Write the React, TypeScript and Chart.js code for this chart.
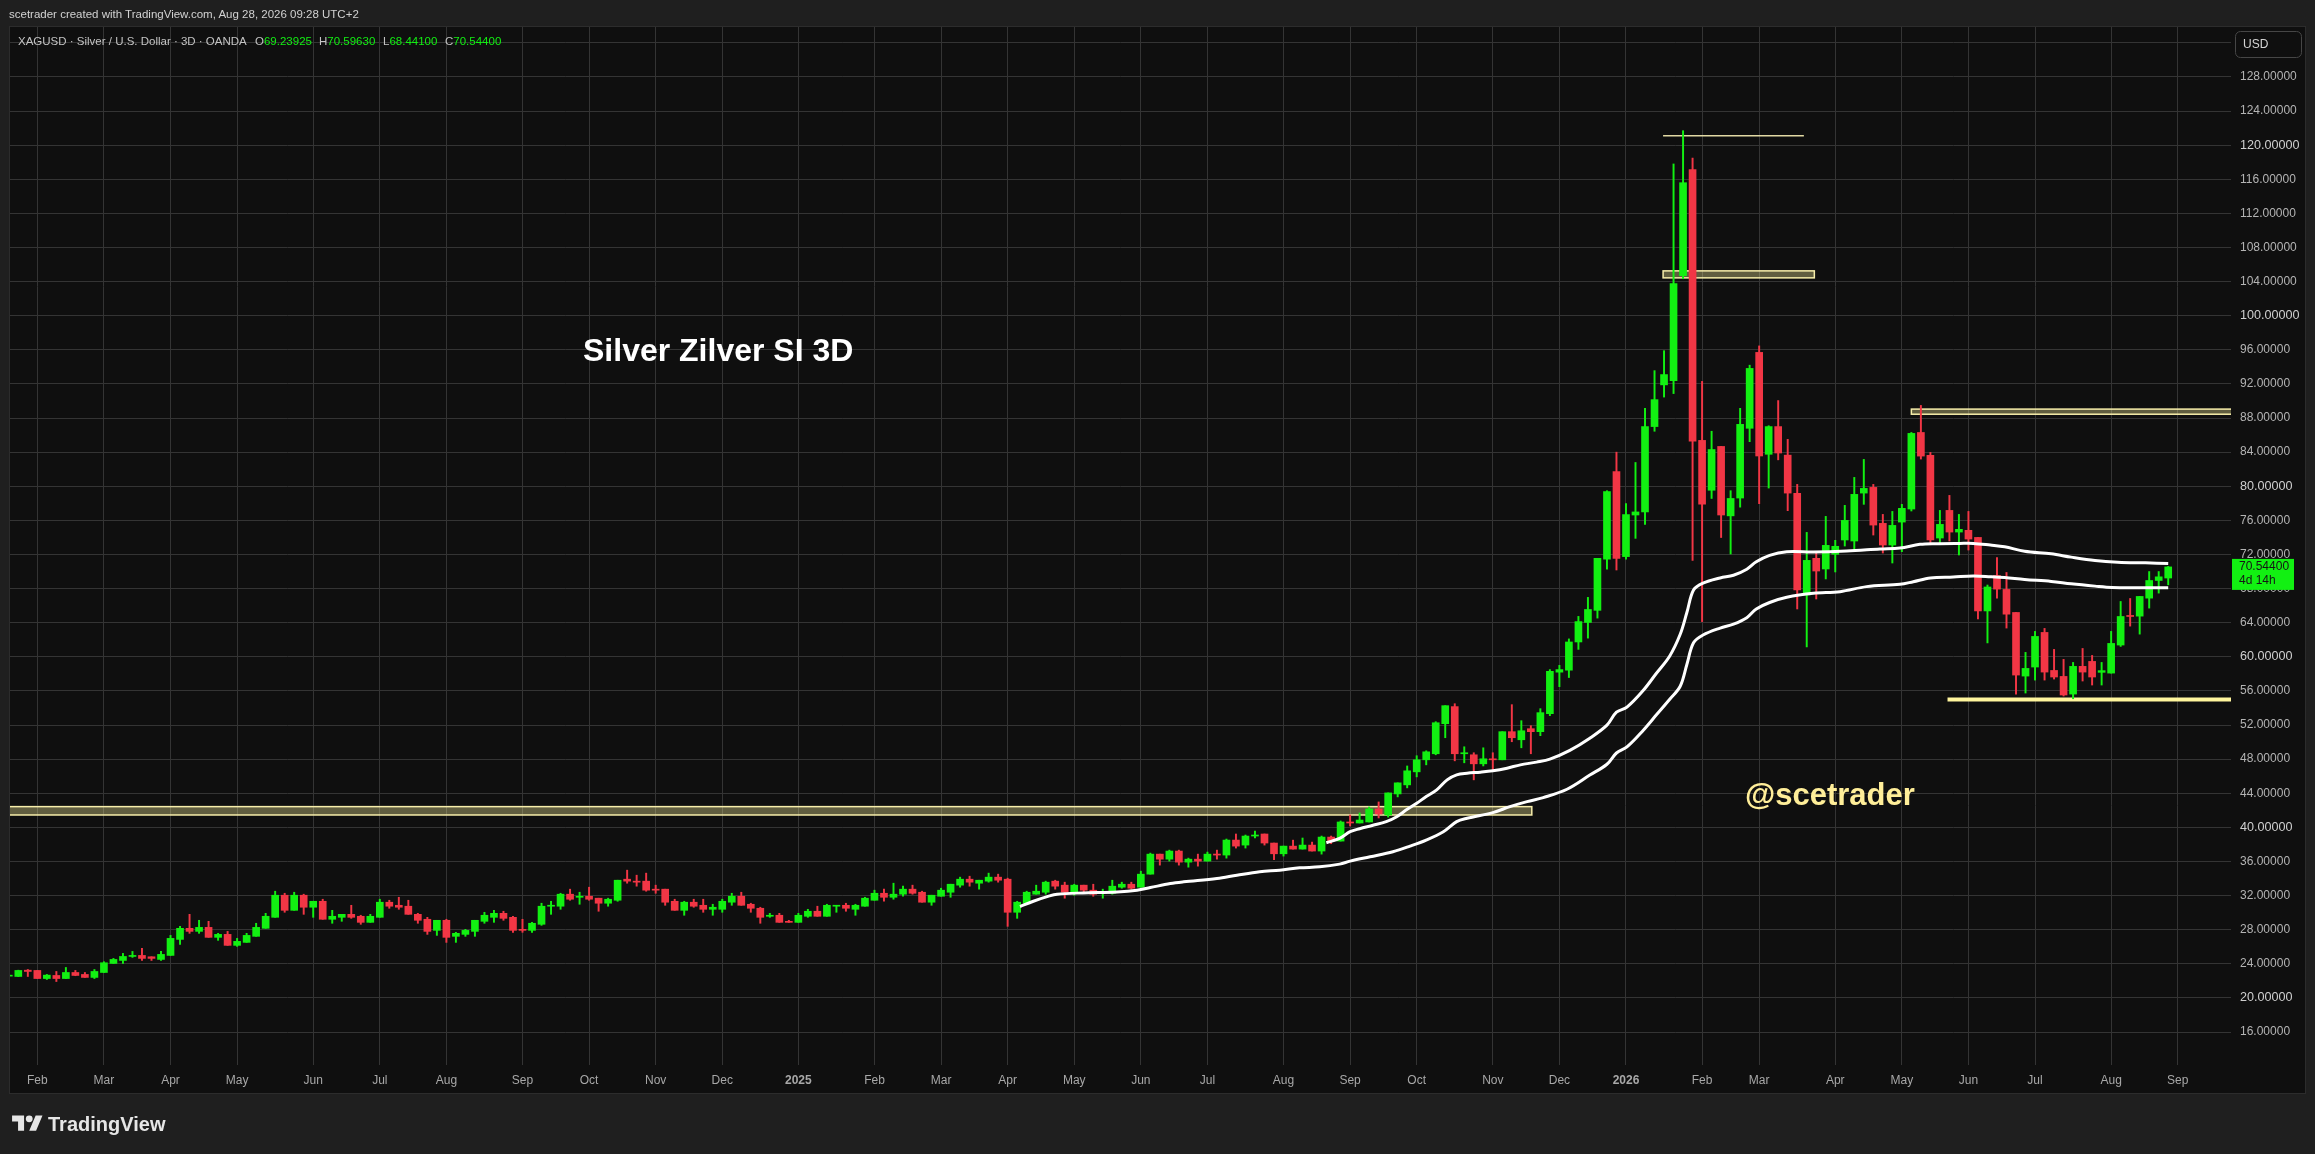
import { useEffect, useRef } from "react";
import { Chart, registerables } from "chart.js";

Chart.register(...registerables);

const W = 2315;
const H = 1154;

// ---- Candle data (3D candles, XAGUSD) ----
const opens = [
  22.55, 22.51, 23.25, 23.22, 22.27, 22.63, 22.27, 22.98, 22.75, 22.4,
  22.98, 24.04, 24.39, 24.86, 24.98, 24.82, 24.51, 24.98, 26.86, 28.16,
  27.8, 28.27, 27.1, 27.45, 26.16, 26.51, 27.22, 28.16, 29.45, 32.04,
  30.27, 32.04, 30.63, 31.33, 29.22, 29.45, 29.8, 29.57, 28.86, 29.45,
  31.22, 30.86, 30.75, 29.8, 29.22, 27.92, 29.1, 27.22, 27.45, 27.8,
  28.98, 29.45, 29.92, 29.45, 28.04, 27.92, 28.63, 30.75, 30.75, 32.16,
  31.8, 31.92, 31.69, 31.1, 31.45, 33.92, 33.69, 33.69, 32.75, 32.75,
  31.33, 30.27, 31.22, 30.86, 30.39, 30.39, 31.22, 31.92, 30.98, 30.51,
  29.57, 29.69, 28.98, 28.86, 29.57, 30.16, 29.57, 30.75, 30.86, 30.39,
  30.75, 31.45, 32.27, 31.8, 32.16, 32.75, 32.39, 31.22, 31.92, 32.39,
  33.22, 33.92, 33.45, 33.69, 34.16, 33.92, 30.04, 31.1, 32.16, 32.39,
  33.69, 33.22, 32.39, 33.22, 32.63, 32.27, 32.27, 32.98, 33.33, 32.98,
  34.51, 36.86, 36.27, 37.22, 35.92, 36.27, 36.04, 36.86, 36.75, 38.51,
  37.92, 38.98, 39.22, 38.16, 36.9, 37.8, 37.45, 37.92, 37.22, 38.86,
  38.39, 40.63, 40.51, 40.63, 42.16, 41.45, 43.92, 44.98, 46.51, 47.92,
  48.63, 52.16, 54.16, 48.63, 48.51, 47.45, 48.04, 47.92, 51.22, 50.27,
  51.57, 51.22, 53.33, 58.2, 58.43, 61.74, 64.03, 65.45, 71.45, 81.72,
  71.75, 76.63, 76.99, 87.0, 91.89, 92.39, 104.7, 117.15, 85.38, 79.53,
  84.67, 76.53, 78.62, 86.8, 95.7, 83.75, 87.0, 83.65, 79.16, 67.25,
  71.55, 70.3, 72.02, 73.7, 73.58, 79.2, 79.87, 75.65, 73.11, 75.8,
  77.33, 86.31, 83.62, 73.93, 77.17, 74.63, 74.83, 74.0, 65.38, 69.54,
  67.9, 65.2, 57.74, 58.8, 62.86, 58.4, 57.7, 55.63, 58.88, 59.46,
  58.18, 58.09, 61.38, 64.85, 64.77, 66.88, 68.95, 69.23925,
];
const highs = [
  22.7, 23.25, 23.33, 23.22, 22.75, 23.1, 23.57, 23.22, 22.98, 23.33,
  24.24, 24.63, 25.22, 25.45, 25.8, 24.82, 25.45, 27.33, 28.39, 29.8,
  29.1, 28.98, 27.57, 27.8, 26.98, 27.57, 28.75, 29.92, 32.51, 32.27,
  32.39, 32.16, 31.33, 31.57, 30.27, 29.8, 30.86, 29.69, 29.8, 31.57,
  31.45, 31.8, 31.45, 29.92, 29.45, 29.1, 29.22, 27.69, 28.04, 29.1,
  30.04, 30.27, 30.16, 29.57, 29.22, 28.86, 31.1, 31.33, 32.27, 32.75,
  32.39, 32.98, 31.69, 31.69, 33.8, 34.98, 34.39, 34.63, 33.22, 32.75,
  31.57, 31.33, 31.57, 31.57, 30.98, 31.57, 32.27, 32.39, 31.1, 30.63,
  29.92, 29.92, 29.1, 29.92, 30.39, 30.75, 30.98, 30.86, 31.1, 30.98,
  31.8, 32.63, 32.75, 33.45, 33.1, 33.22, 32.51, 32.04, 32.86, 33.33,
  34.16, 34.27, 33.8, 34.63, 34.51, 34.04, 31.33, 32.51, 33.22, 33.69,
  33.8, 33.57, 33.33, 33.22, 33.33, 32.75, 33.8, 33.57, 33.57, 34.86,
  36.98, 36.86, 37.33, 37.33, 36.39, 36.86, 37.1, 37.33, 38.63, 39.22,
  39.1, 39.57, 39.22, 38.16, 37.8, 38.5, 38.75, 38.27, 38.98, 38.98,
  40.75, 41.45, 41.69, 42.39, 42.98, 44.04, 45.22, 47.2, 48.4, 48.98,
  52.39, 54.27, 54.5, 49.45, 48.75, 49.33, 48.75, 51.22, 54.39, 52.51,
  51.92, 53.92, 58.5, 59.0, 62.1, 64.74, 66.97, 71.55, 79.48, 84.0,
  77.96, 82.79, 89.14, 93.56, 95.9, 117.8, 121.7, 118.5, 92.3, 86.45,
  84.67, 79.48, 89.14, 94.2, 96.46, 87.1, 90.05, 85.5, 80.22, 74.59,
  72.25, 76.47, 73.66, 77.76, 81.04, 83.15, 80.22, 76.7, 77.05, 77.88,
  86.31, 89.48, 83.97, 77.17, 78.93, 76.7, 77.05, 74.0, 68.42, 71.65,
  69.89, 65.2, 60.52, 62.98, 63.33, 60.87, 59.7, 59.34, 60.98, 60.16,
  59.34, 62.98, 66.49, 66.84, 67.08, 70.0, 70.0, 70.5963,
];
const lows = [
  22.45, 22.5, 22.51, 22.27, 22.16, 21.92, 22.27, 22.6, 22.4, 22.27,
  22.98, 24.04, 24.04, 24.75, 24.39, 24.39, 24.39, 24.98, 26.27, 27.57,
  27.57, 27.1, 26.75, 26.16, 26.04, 26.51, 27.22, 28.16, 29.45, 30.04,
  30.27, 29.8, 29.45, 29.22, 28.75, 28.98, 29.33, 28.63, 28.86, 29.45,
  30.51, 30.39, 29.8, 28.75, 27.45, 27.33, 26.51, 26.51, 27.22, 27.22,
  28.75, 28.86, 29.1, 27.69, 27.69, 27.69, 28.51, 29.8, 30.39, 31.45,
  30.98, 31.45, 30.16, 30.75, 31.33, 33.45, 33.1, 32.51, 32.27, 30.86,
  30.27, 29.69, 30.63, 30.04, 29.69, 30.04, 30.86, 30.86, 30.04, 28.75,
  29.45, 28.86, 28.86, 28.86, 29.45, 29.57, 29.57, 30.04, 30.16, 29.69,
  30.75, 31.45, 31.33, 31.57, 31.92, 32.16, 31.22, 30.86, 31.92, 31.8,
  32.98, 33.1, 32.75, 33.57, 33.57, 28.39, 29.33, 30.98, 32.16, 32.16,
  32.75, 31.69, 32.04, 32.27, 31.92, 31.69, 32.16, 32.86, 32.75, 32.98,
  34.51, 35.57, 36.04, 35.57, 35.33, 35.45, 36.04, 36.27, 36.39, 37.57,
  37.57, 38.75, 37.92, 36.2, 36.63, 37.45, 37.45, 37.22, 36.86, 38.08,
  38.39, 40.16, 40.51, 40.63, 41.1, 41.2, 43.57, 44.63, 45.92, 47.33,
  48.51, 50.51, 47.8, 47.57, 45.57, 47.2, 46.75, 47.92, 50.04, 49.33,
  48.63, 50.75, 53.1, 56.5, 57.57, 60.87, 62.19, 64.54, 70.28, 70.18,
  71.45, 73.89, 75.52, 86.45, 90.46, 90.87, 104.34, 71.3, 64.13, 78.57,
  73.99, 72.06, 77.55, 85.23, 77.96, 79.79, 83.1, 77.14, 65.61, 61.16,
  66.78, 69.13, 69.95, 72.99, 72.6, 77.88, 74.28, 72.17, 71.0, 72.33,
  77.1, 83.19, 73.23, 73.23, 73.58, 71.94, 72.52, 64.44, 61.63, 66.88,
  63.37, 55.63, 55.75, 57.27, 57.27, 57.39, 55.4, 55.08, 57.16, 56.69,
  56.69, 58.09, 61.22, 63.6, 62.66, 65.71, 67.47, 68.441,
];
const closes = [
  22.6, 23.22, 23.1, 22.27, 22.67, 22.27, 22.98, 22.63, 22.4, 23.1,
  24.12, 24.51, 24.86, 24.98, 24.63, 24.63, 25.1, 26.98, 28.16, 27.8,
  28.27, 27.1, 27.45, 26.16, 26.63, 27.33, 28.27, 29.57, 32.04, 30.27,
  32.04, 30.63, 31.33, 29.22, 29.57, 29.8, 29.45, 28.86, 29.57, 31.22,
  30.75, 30.63, 29.8, 29.1, 27.8, 29.1, 27.1, 27.57, 27.92, 29.1,
  29.69, 29.92, 29.33, 27.92, 27.92, 28.75, 30.75, 30.86, 32.16, 31.57,
  31.92, 31.57, 31.1, 31.57, 33.8, 33.69, 33.57, 32.63, 32.63, 31.22,
  30.27, 31.22, 30.75, 30.39, 30.63, 31.33, 31.92, 30.86, 30.51, 29.45,
  29.69, 28.86, 28.86, 29.69, 30.16, 29.57, 30.86, 30.86, 30.51, 30.86,
  31.69, 32.27, 31.8, 32.16, 32.75, 32.27, 31.22, 32.04, 32.63, 33.33,
  33.92, 33.57, 33.8, 34.16, 33.8, 30.04, 31.22, 32.39, 32.51, 33.57,
  33.1, 32.39, 33.22, 32.63, 32.16, 32.39, 33.1, 33.33, 32.86, 34.51,
  36.86, 36.27, 37.22, 35.92, 36.27, 36.04, 36.86, 36.75, 38.51, 37.8,
  38.98, 39.1, 38.16, 36.9, 37.8, 37.45, 37.92, 37.22, 38.86, 38.39,
  40.63, 40.51, 40.86, 42.16, 41.57, 44.04, 45.22, 46.63, 47.92, 48.86,
  52.27, 54.27, 48.63, 48.75, 47.45, 48.04, 47.92, 51.22, 50.51, 51.33,
  51.22, 53.45, 58.3, 58.5, 61.74, 64.13, 65.55, 71.55, 79.38, 71.55,
  76.68, 76.99, 87.0, 90.16, 93.1, 103.78, 115.6, 85.28, 77.9, 84.31,
  76.63, 78.57, 87.26, 93.82, 83.55, 87.0, 83.9, 79.2, 67.84, 71.31,
  70.06, 73.07, 72.96, 76.0, 79.05, 79.75, 75.45, 73.11, 75.41, 77.41,
  86.2, 83.54, 73.7, 75.53, 74.63, 74.95, 73.81, 65.38, 68.19, 67.94,
  65.0, 57.86, 58.64, 62.39, 58.21, 57.63, 55.52, 58.88, 58.21, 57.63,
  58.38, 61.57, 64.73, 64.73, 67.08, 68.95, 69.38, 70.544,
];

// ---- Moving-average lines (candle index, price) ----
const maUpperIdx = [
  138.5, 139.9, 141.0, 142.0, 143.4, 144.8, 145.9, 147.0, 148.0, 149.0,
  150.1, 151.2, 152.2, 153.3, 154.7, 156.0, 157.5, 158.9, 160.6, 162.0,
  164.1, 166.2, 168.0, 169.0, 170.1, 171.8, 173.2, 174.6, 175.7, 176.4,
  177.1, 178.1, 179.9, 181.3, 182.7, 183.7, 185.1, 186.9, 189.7, 193.2,
  196.7, 198.8, 200.9, 202.6, 205.1, 206.5, 208.3, 209.8, 211.9, 214.7,
  216.8, 219.3, 221.7, 224.6, 227.0,
];
const maUpperVal = [
  38.2, 38.71, 39.49, 39.84, 40.24, 40.67, 41.25, 42.12, 42.82, 43.61,
  44.39, 45.57, 46.16, 46.35, 46.47, 46.63, 46.94, 47.33, 47.65, 48.0,
  49.03, 50.45, 51.98, 53.5, 54.1, 56.04, 58.07, 60.1, 62.64, 65.19,
  67.83, 68.64, 69.25, 69.56, 70.27, 71.14, 71.9, 72.31, 72.29, 72.41,
  72.64, 72.76, 73.19, 73.27, 73.3, 73.3, 73.1, 72.9, 72.39, 72.08,
  71.69, 71.3, 71.1, 71.02, 70.95,
];
const maLowerIdx = [
  106.3, 107.7, 109.4, 110.2, 112.9, 116.5, 118.6, 120.0, 122.1, 123.5,
  127.0, 129.1, 131.5, 133.6, 135.7, 137.8, 139.9, 141.0, 143.1, 145.5,
  147.3, 149.0, 150.8, 152.2, 153.3, 156.0, 157.8, 159.6, 161.3, 163.8,
  166.2, 168.0, 169.0, 170.1, 171.8, 173.2, 174.6, 175.7, 176.4, 177.1,
  178.1, 179.9, 181.3, 182.7, 183.7, 185.1, 186.9, 189.7, 192.5, 195.3,
  198.8, 200.2, 202.0, 204.4, 206.5, 208.3, 209.8, 211.9, 214.7, 216.8,
  219.3, 221.1, 223.5, 227.0,
];
const maLowerVal = [
  30.71, 31.33, 31.96, 32.16, 32.31, 32.43, 32.63, 32.94, 33.41, 33.61,
  34.0, 34.39, 34.8, 34.98, 35.25, 35.37, 35.69, 36.04, 36.55, 37.14,
  37.8, 38.51, 39.49, 40.67, 41.06, 41.73, 42.43, 43.02, 43.49, 44.47,
  46.13, 47.4, 48.72, 49.44, 51.37, 53.2, 55.03, 56.55, 59.1, 61.64,
  62.56, 63.37, 63.83, 64.59, 65.61, 66.37, 66.98, 67.45, 67.64, 68.23,
  68.5, 68.81, 69.24, 69.36, 69.48, 69.4, 69.3, 69.07, 68.84, 68.56,
  68.29, 68.13, 68.09, 68.09,
];

// ---- Drawn zones / levels (candle index range, price range) ----
const zoneFrom = [-2, 173.9, 200.0];
const zoneTo = [160.1, 189.8, 250];
const zoneLow = [41.45, 104.44, 88.45];
const zoneHigh = [42.43, 105.26, 89.05];
const levelFrom = [173.9, 203.8];
const levelTo = [188.7, 250];
const levelPrice = [121.1, 55.0];

// ---- Axis ticks ----
const monthTickPos = [
  3, 10, 17, 24, 32, 39, 46, 54, 61, 68, 75, 83, 91, 98, 105, 112,
  119, 126, 134, 141, 148, 156, 163, 170, 178, 184, 192, 199, 206, 213, 221, 228,
];
const monthTickLabels = [
  "Feb", "Mar", "Apr", "May", "Jun", "Jul", "Aug", "Sep", "Oct", "Nov", "Dec", "2025",
  "Feb", "Mar", "Apr", "May", "Jun", "Jul", "Aug", "Sep", "Oct", "Nov", "Dec", "2026",
  "Feb", "Mar", "Apr", "May", "Jun", "Jul", "Aug", "Sep",
];
const priceTicks = [
  16, 20, 24, 28, 32, 36, 40, 44, 48, 52, 56, 60, 64, 68, 72, 76, 80, 84, 88,
  92, 96, 100, 104, 108, 112, 116, 120, 124, 128, 132,
];
const lastPriceLabel = "70.54400";
const countdownLabel = "4d 14h";

const UP = "#12f012";
const DOWN = "#f23645";
const FONT = "'Liberation Sans', Arial, sans-serif";

export default function App() {
  const ref = useRef<HTMLCanvasElement>(null);

  useEffect(() => {
    document.body.style.margin = "0";
    Chart.defaults.font.family = FONT;
    const canvas = ref.current;
    if (!canvas) return;

    const colors = opens.map((o, i) => (closes[i] >= o ? UP : DOWN));
    const bodyData = opens.map((o, i) => ({ x: i, y: [o, closes[i]] }));
    const wickData = highs.map((h, i) => ({ x: i, y: [lows[i], h] }));
    const upperData = maUpperIdx.map((x, i) => ({ x, y: maUpperVal[i] }));
    const lowerData = maLowerIdx.map((x, i) => ({ x, y: maLowerVal[i] }));

    const bgPlugin = {
      id: "bg",
      beforeDraw(chart: any) {
        const ctx = chart.ctx;
        ctx.save();
        ctx.fillStyle = "#1f1f1f";
        ctx.fillRect(0, 0, W, H);
        ctx.fillStyle = "#0f0f0f";
        ctx.fillRect(10, 27, 2295, 1066);
        ctx.strokeStyle = "#2c2c2c";
        ctx.lineWidth = 1;
        ctx.strokeRect(9.5, 26.5, 2296, 1067);
        ctx.restore();
      },
    };

    const zonesPlugin = {
      id: "zones",
      beforeDatasetsDraw(chart: any) {
        const { ctx, chartArea, scales } = chart;
        const xs = scales.x;
        const ys = scales.y;
        ctx.save();
        ctx.beginPath();
        ctx.rect(chartArea.left, chartArea.top, chartArea.right - chartArea.left, chartArea.bottom - chartArea.top);
        ctx.clip();
        zoneFrom.forEach((f, i) => {
          const x1 = xs.getPixelForValue(f);
          const x2 = xs.getPixelForValue(zoneTo[i]);
          const y1 = ys.getPixelForValue(zoneHigh[i]);
          const y2 = ys.getPixelForValue(zoneLow[i]);
          ctx.fillStyle = "rgba(255,245,157,0.34)";
          ctx.fillRect(x1, y1, x2 - x1, y2 - y1);
          ctx.strokeStyle = "#f7eeaa";
          ctx.lineWidth = 1.5;
          ctx.strokeRect(x1, y1, x2 - x1, y2 - y1);
        });
        levelFrom.forEach((f, i) => {
          const x1 = xs.getPixelForValue(f);
          const x2 = xs.getPixelForValue(levelTo[i]);
          const yy = ys.getPixelForValue(levelPrice[i]);
          ctx.strokeStyle = i === 0 ? "#e2d9a4" : "#fff59d";
          ctx.lineWidth = i === 0 ? 1.5 : 4;
          ctx.beginPath();
          ctx.moveTo(x1, yy);
          ctx.lineTo(x2, yy);
          ctx.stroke();
        });
        ctx.restore();
      },
    };

    const tagPlugin = {
      id: "tag",
      afterDraw(chart: any) {
        const { ctx, scales } = chart;
        const py = scales.y.getPixelForValue(closes[closes.length - 1]);
        ctx.save();
        ctx.fillStyle = "#12f012";
        ctx.fillRect(2232, py - 8, 62, 31);
        ctx.fillStyle = "#151515";
        ctx.font = `12px ${FONT}`;
        ctx.textBaseline = "middle";
        ctx.textAlign = "left";
        ctx.fillText(lastPriceLabel, 2239, py);
        ctx.fillText(countdownLabel, 2239, py + 14);
        // USD box
        ctx.fillStyle = "#0f0f0f";
        ctx.strokeStyle = "#464646";
        ctx.lineWidth = 1;
        ctx.beginPath();
        (ctx as any).roundRect(2235.5, 31.5, 66, 26, 5);
        ctx.fill();
        ctx.stroke();
        ctx.fillStyle = "#d4d4d4";
        ctx.fillText("USD", 2243, 45);
        ctx.restore();
      },
    };

    const chart = new Chart(canvas, {
      type: "bar",
      data: {
        datasets: [
          {
            type: "line",
            data: upperData as any,
            borderColor: "#ffffff",
            borderWidth: 3,
            pointRadius: 0,
            tension: 0.35,
            order: 0,
          } as any,
          {
            type: "line",
            data: lowerData as any,
            borderColor: "#ffffff",
            borderWidth: 3,
            pointRadius: 0,
            tension: 0.35,
            order: 0,
          } as any,
          {
            type: "bar",
            data: bodyData as any,
            backgroundColor: colors,
            barThickness: 7,
            grouped: false,
            minBarLength: 1,
            borderWidth: 0,
            order: 1,
          } as any,
          {
            type: "bar",
            data: wickData as any,
            backgroundColor: colors,
            barThickness: 1.3,
            grouped: false,
            borderWidth: 0,
            order: 2,
          } as any,
        ],
      },
      options: {
        animation: false,
        responsive: false,
        events: [],
        layout: { padding: { left: 10, top: 27, right: 10, bottom: 61 } },
        plugins: { legend: { display: false }, tooltip: { enabled: false } },
        scales: {
          x: {
            type: "linear",
            min: 0.126,
            max: 233.6,
            offset: false,
            grid: { color: "#343434", lineWidth: 1, drawTicks: false, offset: false },
            border: { display: false },
            ticks: {
              autoSkip: false,
              maxRotation: 0,
              minRotation: 0,
              padding: 8,
              color: "#a8a8a8",
              font: (c: any) => {
                const lbl = c.tick ? monthTickLabels[monthTickPos.indexOf(c.tick.value)] : "";
                return { size: 12, weight: lbl === "2025" || lbl === "2026" ? "bold" : "normal" };
              },
              callback: (_v: any, i: number) => monthTickLabels[i],
            },
            afterBuildTicks: (s: any) => {
              s.ticks = monthTickPos.map((v) => ({ value: v }));
            },
            afterFit: (s: any) => {
              s.height = 28;
              s.paddingLeft = 0;
              s.paddingRight = 0;
            },
          } as any,
          y: {
            type: "linear",
            position: "right",
            min: 12.13,
            max: 133.86,
            grid: { color: "#343434", lineWidth: 1, drawTicks: false },
            border: { display: false },
            ticks: {
              padding: 9,
              color: (c: any) => (c.tick && c.tick.value % 20 === 0 ? "#cfcfcf" : "#b4b4b4"),
              font: (c: any) => ({
                size: c.tick && c.tick.value % 20 === 0 ? 12.6 : 12,
                weight: "normal",
              }),
              callback: (v: any) => (v === 132 ? "" : Number(v).toFixed(5)),
            },
            afterBuildTicks: (s: any) => {
              s.ticks = priceTicks.map((v) => ({ value: v }));
            },
            afterFit: (s: any) => {
              s.width = 74;
              s.paddingTop = 0;
              s.paddingBottom = 0;
            },
          } as any,
        },
      } as any,
      plugins: [bgPlugin, zonesPlugin, tagPlugin],
    });

    return () => chart.destroy();
  }, []);

  const overlayBase: any = { position: "absolute", whiteSpace: "pre", fontFamily: FONT, lineHeight: 1 };

  return (
    <div style={{ position: "absolute", left: 0, top: 0, width: W, height: H, background: "#1f1f1f", overflow: "hidden" }}>
      <canvas ref={ref} width={W} height={H} style={{ position: "absolute", left: 0, top: 0 }} />
      <div style={{ ...overlayBase, left: 9, top: 9, fontSize: 11.5, color: "#d2d2d2" }}>
        scetrader created with TradingView.com, Aug 28, 2026 09:28 UTC+2
      </div>
      <div style={{ ...overlayBase, left: 18, top: 36, fontSize: 11.5, color: "#c4c4c4" }}>
        XAGUSD · Silver / U.S. Dollar · 3D · OANDA
      </div>
      <div style={{ ...overlayBase, left: 255, top: 36, fontSize: 11.5, color: "#c4c4c4" }}>
        O<span style={{ color: UP }}>69.23925</span>
      </div>
      <div style={{ ...overlayBase, left: 319, top: 36, fontSize: 11.5, color: "#c4c4c4" }}>
        H<span style={{ color: UP }}>70.59630</span>
      </div>
      <div style={{ ...overlayBase, left: 383, top: 36, fontSize: 11.5, color: "#c4c4c4" }}>
        L<span style={{ color: UP }}>68.44100</span>
      </div>
      <div style={{ ...overlayBase, left: 445, top: 36, fontSize: 11.5, color: "#c4c4c4" }}>
        C<span style={{ color: UP }}>70.54400</span>
      </div>
      <div style={{ ...overlayBase, left: 583, top: 334, fontSize: 32, fontWeight: "bold", color: "#ffffff" }}>
        Silver Zilver SI 3D
      </div>
      <div style={{ ...overlayBase, left: 1745, top: 779, fontSize: 31, fontWeight: "bold", color: "#ffee99" }}>
        @scetrader
      </div>
      <div style={{ position: "absolute", left: 12, top: 1112, display: "flex", alignItems: "center" }}>
        <svg width="31" height="24" viewBox="0 0 36 28">
          <path d="M14 22H7V11H0V4h14v18zM28 22h-8l7.5-18h8L28 22z" fill="#e6e6e6" />
          <circle cx="20" cy="8" r="4" fill="#e6e6e6" />
        </svg>
        <span style={{ marginLeft: 5, fontFamily: FONT, fontWeight: "bold", fontSize: 20, color: "#e6e6e6", lineHeight: 1 }}>
          TradingView
        </span>
      </div>
    </div>
  );
}
